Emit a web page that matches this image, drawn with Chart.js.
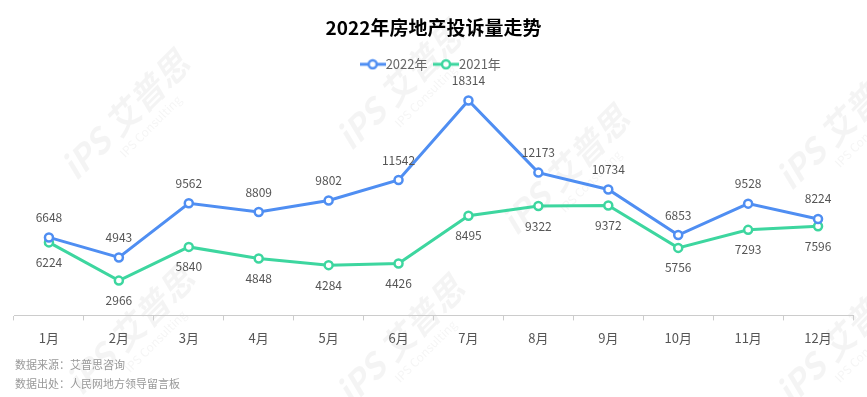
<!DOCTYPE html>
<html>
<head>
<meta charset="utf-8">
<script src="https://cdn.jsdelivr.net/npm/chart.js@4"></script>
<style>
html,body{margin:0;padding:0;background:#fff;}
#wrap{width:867px;height:397px;position:relative;}
</style>
</head>
<body>
<div id="wrap"><canvas id="c" width="867" height="397"></canvas></div>
<script>
const months = ['1月','2月','3月','4月','5月','6月','7月','8月','9月','10月','11月','12月'];
const series2022 = [6648, 4943, 9562, 8809, 9802, 11542, 18314, 12173, 10734, 6853, 9528, 8224];
const series2021 = [6224, 2966, 5840, 4848, 4284, 4426, 8495, 9322, 9372, 5756, 7293, 7596];
const seriesNames = ['2022年','2021年'];
const titleText = '2022年房地产投诉量走势';
const footerLines = ['数据来源：艾普思咨询','数据出处：人民网地方领导留言板'];

const FONT = '"Noto Sans CJK SC", "Noto Sans", sans-serif';
const BLUE = '#4f8ef2';
const GREEN = '#3dd69f';

function legendIcon(color){
  const c = document.createElement('canvas');
  c.width = 26; c.height = 12;
  const g = c.getContext('2d');
  g.strokeStyle = color; g.lineWidth = 3;
  g.beginPath(); g.moveTo(0,6); g.lineTo(26,6); g.stroke();
  g.fillStyle = '#fff'; g.lineWidth = 2.5;
  g.beginPath(); g.arc(13,6,4,0,Math.PI*2); g.fill(); g.stroke();
  return c;
}

const watermark = {
  id:'watermark',
  beforeDraw(chart){
    const ctx = chart.ctx;
    const spots = [[125,115],[400,85],[840,125],[130,330],[400,340],[840,340],[565,170]];
    ctx.save();
    for(const [x,y] of spots){
      ctx.save();
      ctx.translate(x,y);
      ctx.rotate(-Math.PI/4);
      ctx.fillStyle = 'rgba(0,0,0,0.045)';
      ctx.font = 'bold italic 34px ' + FONT;
      ctx.textAlign = 'center'; ctx.textBaseline = 'middle';
      ctx.fillText('iPS 艾普思', 0, 0);
      ctx.font = '12px ' + FONT;
      ctx.fillText('IPS Consulting', 10, 26);
      ctx.restore();
    }
    ctx.restore();
  }
};

const valueLabels = {
  id:'valueLabels',
  afterDatasetsDraw(chart){
    const ctx = chart.ctx;
    ctx.save();
    ctx.font = '12px ' + FONT;
    ctx.fillStyle = '#555';
    ctx.textAlign = 'center';
    ctx.textBaseline = 'middle';
    chart.data.datasets.forEach((ds, di) => {
      const meta = chart.getDatasetMeta(di);
      meta.data.forEach((pt, i) => {
        const dy = di === 0 ? -20 : 20;
        ctx.fillText(String(ds.data[i]), pt.x, pt.y + dy);
      });
    });
    ctx.restore();
  }
};

const footer = {
  id:'footer',
  afterDraw(chart){
    const ctx = chart.ctx;
    ctx.save();
    ctx.font = '11px ' + FONT;
    ctx.fillStyle = '#999';
    ctx.textAlign = 'left';
    ctx.textBaseline = 'middle';
    ctx.fillText(footerLines[0], 15, 365);
    ctx.fillText(footerLines[1], 15, 384);
    ctx.restore();
  }
};

new Chart(document.getElementById('c'), {
  type:'line',
  data:{
    labels: months,
    datasets:[
      {label: seriesNames[0], data: series2022, borderColor: BLUE, backgroundColor:'#fff',
       borderWidth:3, pointRadius:4, pointBorderWidth:2.5, pointBackgroundColor:'#fff',
       pointBorderColor: BLUE, pointStyle:'circle', tension:0},
      {label: seriesNames[1], data: series2021, borderColor: GREEN, backgroundColor:'#fff',
       borderWidth:3, pointRadius:4, pointBorderWidth:2.5, pointBackgroundColor:'#fff',
       pointBorderColor: GREEN, pointStyle:'circle', tension:0}
    ]
  },
  options:{
    responsive:false,
    animation:false,
    devicePixelRatio:1,
    layout:{padding:{left:14, right:14, top:0, bottom:41}},
    plugins:{
      title:{display:true, text:titleText, color:'#000',
        font:{size:19, weight:'bold', family:FONT}, padding:{top:16, bottom:7}},
      legend:{display:true, position:'top',
        labels:{usePointStyle:true, color:'#666', font:{size:13, family:FONT},
          boxWidth:26, boxHeight:12, padding:12,
          generateLabels(chart){
            return chart.data.datasets.map((ds,i)=>({
              text: ds.label, pointStyle: legendIcon(ds.borderColor),
              fillStyle:'#fff', strokeStyle: ds.borderColor, lineWidth:0,
              hidden:false, datasetIndex:i, fontColor:'#666'
            }));
          }}},
      tooltip:{enabled:false}
    },
    scales:{
      x:{
        offset:true,
        grid:{display:true, offset:true, drawOnChartArea:false, drawTicks:true, tickLength:5, color:'#ccc'},
        border:{display:true, color:'#ccc'},
        ticks:{color:'#555', font:{size:13, family:FONT}, padding:10}
      },
      y:{display:false, min:0, max:20000}
    }
  },
  plugins:[watermark, valueLabels, footer]
});
</script>
</body>
</html>
